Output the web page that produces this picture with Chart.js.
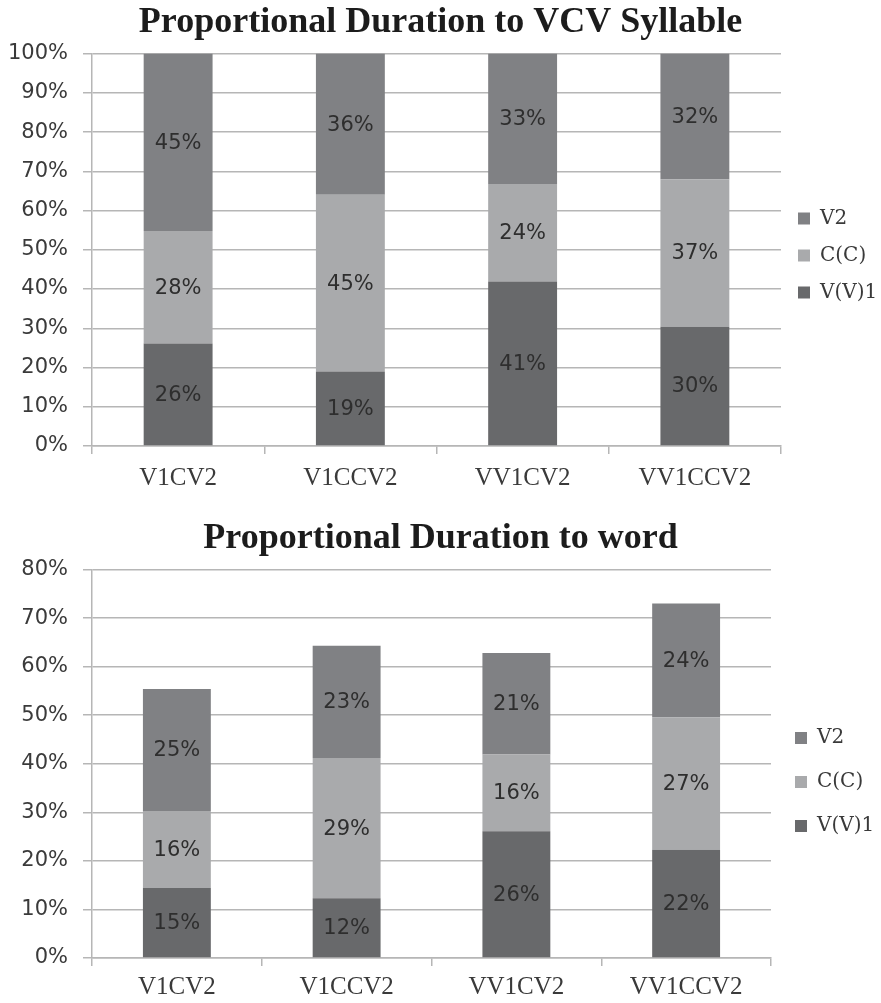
<!DOCTYPE html>
<html>
<head>
<meta charset="utf-8">
<script src="https://cdn.jsdelivr.net/npm/chart.js@4.4.1/dist/chart.umd.min.js"></script>
<style>
  html, body { margin: 0; padding: 0; background: #ffffff; }
  body { width: 881px; height: 1003px; position: relative; overflow: hidden; }
  .box { position: absolute; left: 0; width: 881px; }
</style>
</head>
<body>
<div class="box" style="top:0;height:503px;"><canvas id="c1" width="881" height="503"></canvas></div>
<div class="box" style="top:500px;height:512px;"><canvas id="c2" width="881" height="512"></canvas></div>
<script>
// ---- data ----
const categories = ['V1CV2', 'V1CCV2', 'VV1CV2', 'VV1CCV2'];
const seriesNames = ['V(V)1', 'C(C)', 'V2'];

// Chart 1: proportional duration to VCV syllable (segment sizes, %)
const sylV1 = [26.1, 19.0, 41.9, 30.4];
const sylC  = [28.7, 45.0, 24.9, 37.6];
const sylV2 = [45.2, 36.0, 33.2, 32.0];
// printed labels
const sylV1Labels = ['26%', '19%', '41%', '30%'];
const sylCLabels  = ['28%', '45%', '24%', '37%'];
const sylV2Labels = ['45%', '36%', '33%', '32%'];

// Chart 2: proportional duration to word (segment sizes, %)
const wordV1 = [14.4, 12.3, 26.1, 22.3];
const wordC  = [15.9, 28.9, 15.8, 27.3];
const wordV2 = [25.1, 23.1, 20.9, 23.4];
const wordV1Labels = ['15%', '12%', '26%', '22%'];
const wordCLabels  = ['16%', '29%', '16%', '27%'];
const wordV2Labels = ['25%', '23%', '21%', '24%'];

// ---- styles ----
const colors = ['#68696b', '#a9aaac', '#808184'];
const gridColor = '#b6b6b6';
const textColor = '#3a3a3a';

const barLabelPlugin = {
  id: 'barLabels',
  afterDatasetsDraw(chart) {
    const ctx = chart.ctx;
    ctx.save();
    ctx.font = "21px 'DejaVu Sans'";
    ctx.fillStyle = '#2e2e2e';
    ctx.textAlign = 'center';
    ctx.textBaseline = 'middle';
    chart.data.datasets.forEach((ds, di) => {
      const meta = chart.getDatasetMeta(di);
      meta.data.forEach((bar, i) => {
        const p = bar.getProps(['x', 'y', 'base'], true);
        ctx.fillText(ds.pctLabels[i], p.x, (p.y + p.base) / 2 + 1);
      });
    });
    ctx.restore();
  }
};

function makeChart(id, title, v1, c, v2, l1, lc, l2, cfg) {
  const datasets = [
    { label: seriesNames[0], data: v1, pctLabels: l1, backgroundColor: colors[0] },
    { label: seriesNames[1], data: c,  pctLabels: lc, backgroundColor: colors[1] },
    { label: seriesNames[2], data: v2, pctLabels: l2, backgroundColor: colors[2] }
  ].map(d => Object.assign(d, { borderWidth: 0, categoryPercentage: 1.0, barPercentage: 0.4 }));

  return new Chart(document.getElementById(id), {
    type: 'bar',
    data: { labels: categories, datasets },
    plugins: [barLabelPlugin],
    options: {
      responsive: false,
      animation: false,
      events: [],
      layout: { padding: { top: cfg.padTop, bottom: cfg.padBottom, left: 0, right: 0 } },
      plugins: {
        tooltip: { enabled: false },
        title: {
          display: true,
          text: title,
          color: '#1c1c1c',
          font: { family: "'Liberation Serif'", size: 36, weight: 'bold', lineHeight: 1.1 },
          padding: { top: 0, bottom: cfg.titleBottom }
        },
        legend: {
          display: true,
          position: 'right',
          align: 'center',
          reverse: true,
          maxWidth: cfg.legendWidth,
          title: { display: true, text: ' ', font: { size: 1, lineHeight: 1 }, padding: { top: 0, bottom: cfg.legendShift } },
          labels: {
            boxWidth: 12,
            boxHeight: 12,
            padding: cfg.legendPad,
            color: textColor,
            font: { family: "'DejaVu Serif'", size: 20 }
          }
        }
      },
      scales: {
        x: {
          stacked: true,
          offset: true,
          border: { display: true, color: gridColor, width: 1.5 },
          grid: { display: true, drawOnChartArea: false, drawTicks: true, tickLength: 8, color: gridColor, lineWidth: 1.5, offset: true },
          ticks: { color: textColor, padding: cfg.xPad, font: { family: "'Liberation Serif'", size: 25 } }
        },
        y: {
          stacked: true,
          min: 0,
          max: cfg.yMax,
          afterFit(scale) { scale.width = 92; },
          border: { display: true, color: gridColor, width: 1.5 },
          grid: { color: gridColor, lineWidth: 1.5, tickLength: 9 },
          ticks: {
            stepSize: 10,
            color: textColor,
            padding: 15,
            font: { family: "'DejaVu Sans'", size: 21 },
            callback: v => v + '%'
          }
        }
      }
    }
  });
}

makeChart('c1', 'Proportional Duration to VCV Syllable',
  sylV1, sylC, sylV2, sylV1Labels, sylCLabels, sylV2Labels,
  { padTop: 3, padBottom: 1, titleBottom: 11, legendWidth: 100, legendPad: 17, legendShift: 5, xPad: 9, yMax: 100 });

makeChart('c2', 'Proportional Duration to word',
  wordV1, wordC, wordV2, wordV1Labels, wordCLabels, wordV2Labels,
  { padTop: 19, padBottom: 4, titleBottom: 11, legendWidth: 110, legendPad: 24, legendShift: 36, xPad: 6, yMax: 80 });
</script>
</body>
</html>
